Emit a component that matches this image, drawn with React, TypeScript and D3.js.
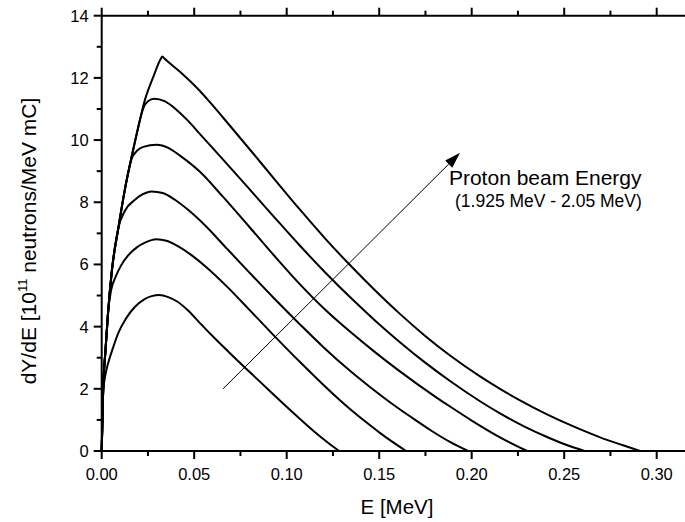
import React from "react";
import * as d3 from "d3";

const xMajorTicks = [0, 0.05, 0.1, 0.15, 0.2, 0.25, 0.3];
const xMajorLabels = ["0.00", "0.05", "0.10", "0.15", "0.20", "0.25", "0.30"];
const xMinorTicks = [0.025, 0.075, 0.125, 0.175, 0.225, 0.275];
const yMajorTicks = [0, 2, 4, 6, 8, 10, 12, 14];
const yMinorTicks = [1, 3, 5, 7, 9, 11, 13];

const curve1: [number, number][] = [[0,0],[0.0008,1.9],[0.002,2.45],[0.0036,2.85],[0.006,3.3],[0.009,3.8],[0.013,4.25],[0.018,4.64],[0.023,4.88],[0.027,4.98],[0.031,5.02],[0.036,4.95],[0.041,4.8],[0.047,4.5],[0.053,4.12],[0.0615,3.6],[0.071,3.05],[0.0775,2.68],[0.09,1.98],[0.0982,1.52],[0.1072,1.03],[0.115,0.62],[0.122,0.28],[0.1283,0]];
const curve2: [number, number][] = [[0,0],[0.0008,2.0],[0.002,3.2],[0.0035,4.5],[0.005,5.15],[0.0075,5.6],[0.0105,5.97],[0.0144,6.3],[0.019,6.55],[0.0234,6.7],[0.0295,6.81],[0.035,6.76],[0.0414,6.58],[0.0485,6.3],[0.0558,5.95],[0.068,5.27],[0.08,4.53],[0.093,3.72],[0.1072,2.86],[0.1175,2.26],[0.1279,1.68],[0.1342,1.35],[0.142,0.97],[0.15,0.6],[0.157,0.3],[0.1645,0]];
const curve3: [number, number][] = [[0,0],[0.0008,2.0],[0.002,3.2],[0.0035,4.5],[0.0055,5.8],[0.009,7.17],[0.0125,7.72],[0.018,8.08],[0.022,8.25],[0.027,8.35],[0.033,8.3],[0.0396,8.08],[0.047,7.74],[0.0558,7.26],[0.0678,6.5],[0.08,5.73],[0.093,4.92],[0.1072,4.07],[0.12,3.33],[0.1342,2.58],[0.145,2.06],[0.1558,1.57],[0.167,1.1],[0.178,0.66],[0.188,0.3],[0.198,0]];
const curve4: [number, number][] = [[0,0],[0.0008,2.0],[0.002,3.2],[0.0035,4.5],[0.0055,5.8],[0.009,7.17],[0.0125,8.4],[0.0162,9.4],[0.019,9.65],[0.0225,9.78],[0.0297,9.85],[0.036,9.75],[0.0423,9.5],[0.0531,8.98],[0.0655,8.18],[0.0802,7.18],[0.093,6.3],[0.1072,5.36],[0.1207,4.55],[0.1342,3.84],[0.1477,3.18],[0.1612,2.56],[0.1812,1.71],[0.1883,1.43],[0.2,0.98],[0.2153,0.44],[0.23,0]];
const curve5: [number, number][] = [[0,0],[0.0008,2.0],[0.002,3.2],[0.0035,4.5],[0.0055,5.8],[0.009,7.17],[0.0125,8.4],[0.0162,9.47],[0.0195,10.35],[0.0225,11.03],[0.025,11.25],[0.0285,11.33],[0.034,11.25],[0.0405,10.97],[0.047,10.6],[0.053,10.2],[0.0655,9.38],[0.0802,8.4],[0.093,7.54],[0.1072,6.6],[0.1207,5.75],[0.1342,4.95],[0.1477,4.2],[0.1612,3.5],[0.1747,2.85],[0.1883,2.25],[0.2045,1.6],[0.2153,1.21],[0.228,0.8],[0.2407,0.45],[0.251,0.2],[0.261,0]];
const curve6: [number, number][] = [[0,0],[0.0008,2.0],[0.002,3.2],[0.0035,4.5],[0.0055,5.8],[0.009,7.17],[0.0125,8.4],[0.0162,9.47],[0.0195,10.35],[0.0234,11.3],[0.028,12.05],[0.0318,12.6],[0.0328,12.69],[0.0338,12.63],[0.0423,12.2],[0.0531,11.58],[0.0585,11.22],[0.0658,10.71],[0.082,9.56],[0.093,8.77],[0.1072,7.76],[0.1207,6.84],[0.1342,5.98],[0.1477,5.17],[0.1612,4.41],[0.1747,3.71],[0.1883,3.07],[0.2045,2.4],[0.2153,2.0],[0.2261,1.63],[0.2407,1.18],[0.255,0.79],[0.2694,0.44],[0.281,0.2],[0.291,0]];

const curves = [curve1, curve2, curve3, curve4, curve5, curve6];

const arrowStart: [number, number] = [0.0656, 2.0];
const arrowEnd: [number, number] = [0.1937, 9.59];
const annoLine1 = "Proton beam Energy";
const annoLine2 = "(1.925 MeV - 2.05 MeV)";
const annoPos1: [number, number] = [0.1877, 8.56];
const annoPos2: [number, number] = [0.191, 7.85];

const W = 685;
const H = 522;
const FONT = "'Liberation Sans', Arial, sans-serif";

export default function App() {
  const x0 = 101.7;
  const x = d3.scaleLinear().domain([0, 0.32]).range([x0, x0 + 0.32 * 1850]);
  const y = d3.scaleLinear().domain([0, 14]).range([451, 15.7]);
  const line = d3
    .line<[number, number]>()
    .x((d) => x(d[0]))
    .y((d) => y(d[1]))
    .curve(d3.curveMonotoneX);

  const ax = x(arrowStart[0]);
  const ay = y(arrowStart[1]);
  const bx = x(arrowEnd[0]);
  const by = y(arrowEnd[1]);
  const ang = Math.atan2(by - ay, bx - ax);
  const hl = 16;
  const hw = 5;
  const baseX = bx - hl * Math.cos(ang);
  const baseY = by - hl * Math.sin(ang);
  const head = [
    [bx, by],
    [baseX + hw * Math.sin(ang), baseY - hw * Math.cos(ang)],
    [baseX - hw * Math.sin(ang), baseY + hw * Math.cos(ang)],
  ]
    .map((p) => p.join(","))
    .join(" ");

  const left = x(0);
  const bottom = y(0);
  const top = y(14);

  return (
    <svg
      width={W}
      height={H}
      style={{ position: "absolute", left: 0, top: 0, background: "#fff" }}
      fontFamily={FONT}
    >
      <rect width={W} height={H} fill="#fff" />
      {curves.map((c, i) => (
        <path key={i} d={line(c) || ""} fill="none" stroke="#000" strokeWidth={2} strokeLinejoin="round" />
      ))}
      <line x1={left} x2={W} y1={bottom} y2={bottom} stroke="#000" strokeWidth={2} />
      <line x1={left} x2={W} y1={top} y2={top} stroke="#000" strokeWidth={2} />
      <line x1={left} x2={left} y1={top} y2={bottom} stroke="#000" strokeWidth={2} />
      {xMajorTicks.map((t, i) => (
        <g key={"xm" + i}>
          <line x1={x(t)} x2={x(t)} y1={bottom} y2={bottom + 8} stroke="#000" strokeWidth={2} />
          <line x1={x(t)} x2={x(t)} y1={top} y2={top - 8} stroke="#000" strokeWidth={2} />
          <text x={x(t)} y={480} fontSize={16.5} textAnchor="middle" fill="#000">
            {xMajorLabels[i]}
          </text>
        </g>
      ))}
      {xMinorTicks.map((t, i) => (
        <g key={"xn" + i}>
          <line x1={x(t)} x2={x(t)} y1={bottom} y2={bottom + 5} stroke="#000" strokeWidth={2} />
          <line x1={x(t)} x2={x(t)} y1={top} y2={top - 5} stroke="#000" strokeWidth={2} />
        </g>
      ))}
      {yMajorTicks.map((t, i) => (
        <g key={"ym" + i}>
          <line x1={left} x2={left - 8} y1={y(t)} y2={y(t)} stroke="#000" strokeWidth={2} />
          <text x={left - 13} y={y(t)} dy="0.36em" fontSize={16.5} textAnchor="end" fill="#000">
            {t}
          </text>
        </g>
      ))}
      {yMinorTicks.map((t, i) => (
        <line key={"yn" + i} x1={left} x2={left - 5} y1={y(t)} y2={y(t)} stroke="#000" strokeWidth={2} />
      ))}
      <text x={397} y={514} fontSize={20.5} textAnchor="middle" fill="#000">
        E [MeV]
      </text>
      <text transform={`translate(35.5, 241) rotate(-90)`} fontSize={21} textAnchor="middle" fill="#000">
        <tspan>dY/dE [10</tspan>
        <tspan fontSize={13} dy={-9}>11</tspan>
        <tspan dy={9}> neutrons/MeV mC]</tspan>
      </text>
      <line x1={ax} y1={ay} x2={baseX} y2={baseY} stroke="#000" strokeWidth={1} />
      <polygon points={head} fill="#000" />
      <text x={x(annoPos1[0])} y={y(annoPos1[1])} fontSize={21} fill="#000">
        {annoLine1}
      </text>
      <text x={x(annoPos2[0])} y={y(annoPos2[1])} fontSize={17.5} fill="#000">
        {annoLine2}
      </text>
    </svg>
  );
}
